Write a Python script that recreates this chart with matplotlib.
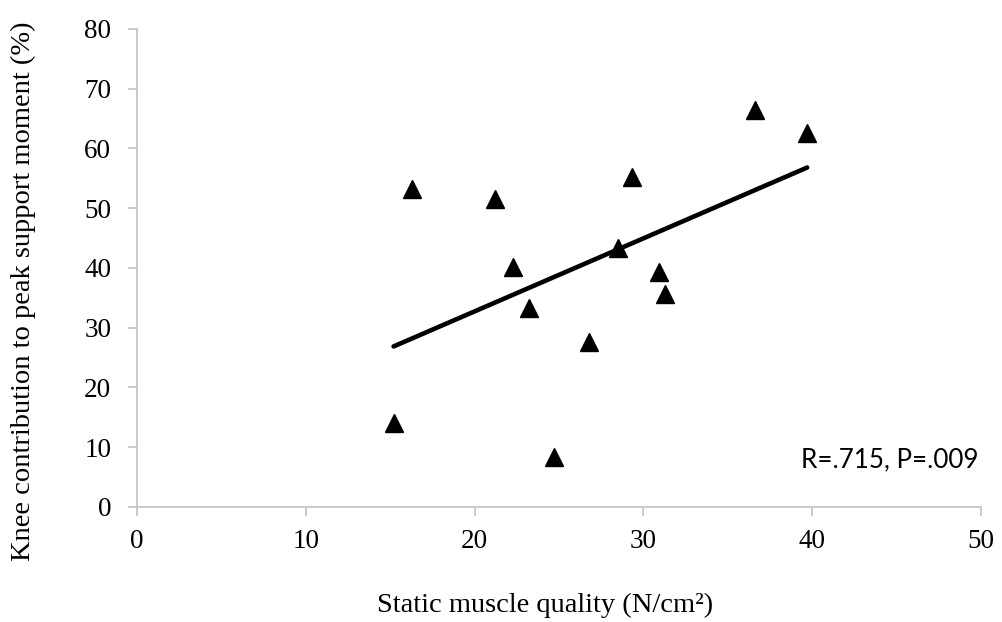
import numpy as np
import matplotlib
matplotlib.use("Agg")
import matplotlib.pyplot as plt

# Static muscle quality (N/cm^2) and knee contribution to peak support moment (%)
muscle_quality = [15.2, 16.3, 21.2, 22.3, 23.2, 24.7, 26.8, 28.5, 29.3, 30.9, 31.3, 36.6, 39.7]
knee_contribution = [14.1, 53.2, 51.5, 40.2, 33.3, 8.4, 27.6, 43.3, 55.2, 39.3, 35.6, 66.4, 62.6]

x_ticks = [0, 10, 20, 30, 40, 50]
y_ticks = [0, 10, 20, 30, 40, 50, 60, 70, 80]
stats_label = "R=.715, P=.009"

serif = "Liberation Serif"
axis_grey = "#c6c6c6"

fig = plt.figure(figsize=(10.03, 6.22), dpi=100)
ax = fig.add_axes([0.1366, 0.1849, 0.8415, 0.7685])

# scatter points
ax.plot(muscle_quality, knee_contribution, linestyle="none", marker="^",
        markersize=12.3, color="black", zorder=3)

# least-squares trend line over the data range
slope, intercept = np.polyfit(muscle_quality, knee_contribution, 1)
x_fit = np.array([min(muscle_quality), max(muscle_quality)])
ax.plot(x_fit, slope * x_fit + intercept, color="black", linewidth=3.3,
        solid_capstyle="round", zorder=2)

ax.set_xlim(0, 50)
ax.set_ylim(0, 80)
ax.set_xticks(x_ticks)
ax.set_yticks(y_ticks)

for side in ["top", "right"]:
    ax.spines[side].set_visible(False)
for side in ["left", "bottom"]:
    ax.spines[side].set_color(axis_grey)
    ax.spines[side].set_linewidth(1.3)

ax.tick_params(axis="both", direction="out", length=6.5, width=1.3, color=axis_grey,
               labelsize=19.5, labelcolor="black")
ax.tick_params(axis="x", pad=9.5)
ax.tick_params(axis="y", pad=12)
for lbl in ax.get_xticklabels() + ax.get_yticklabels():
    lbl.set_fontfamily(serif)

# axis titles placed on the figure
fig.text(0.5434, 0.016, "Static muscle quality (N/cm\u00b2)", ha="center", va="baseline",
         fontsize=20.5, fontfamily=serif)
fig.text(0.023, 0.532, "Knee contribution to peak support moment (%)", rotation=90,
         ha="center", va="center", fontsize=20.5, fontfamily=serif)

ax.text(49.85, 6.7, stats_label, ha="right", va="baseline", fontsize=18.7,
        fontfamily="Lato", color="black")

fig.savefig("out.png", dpi=100)
